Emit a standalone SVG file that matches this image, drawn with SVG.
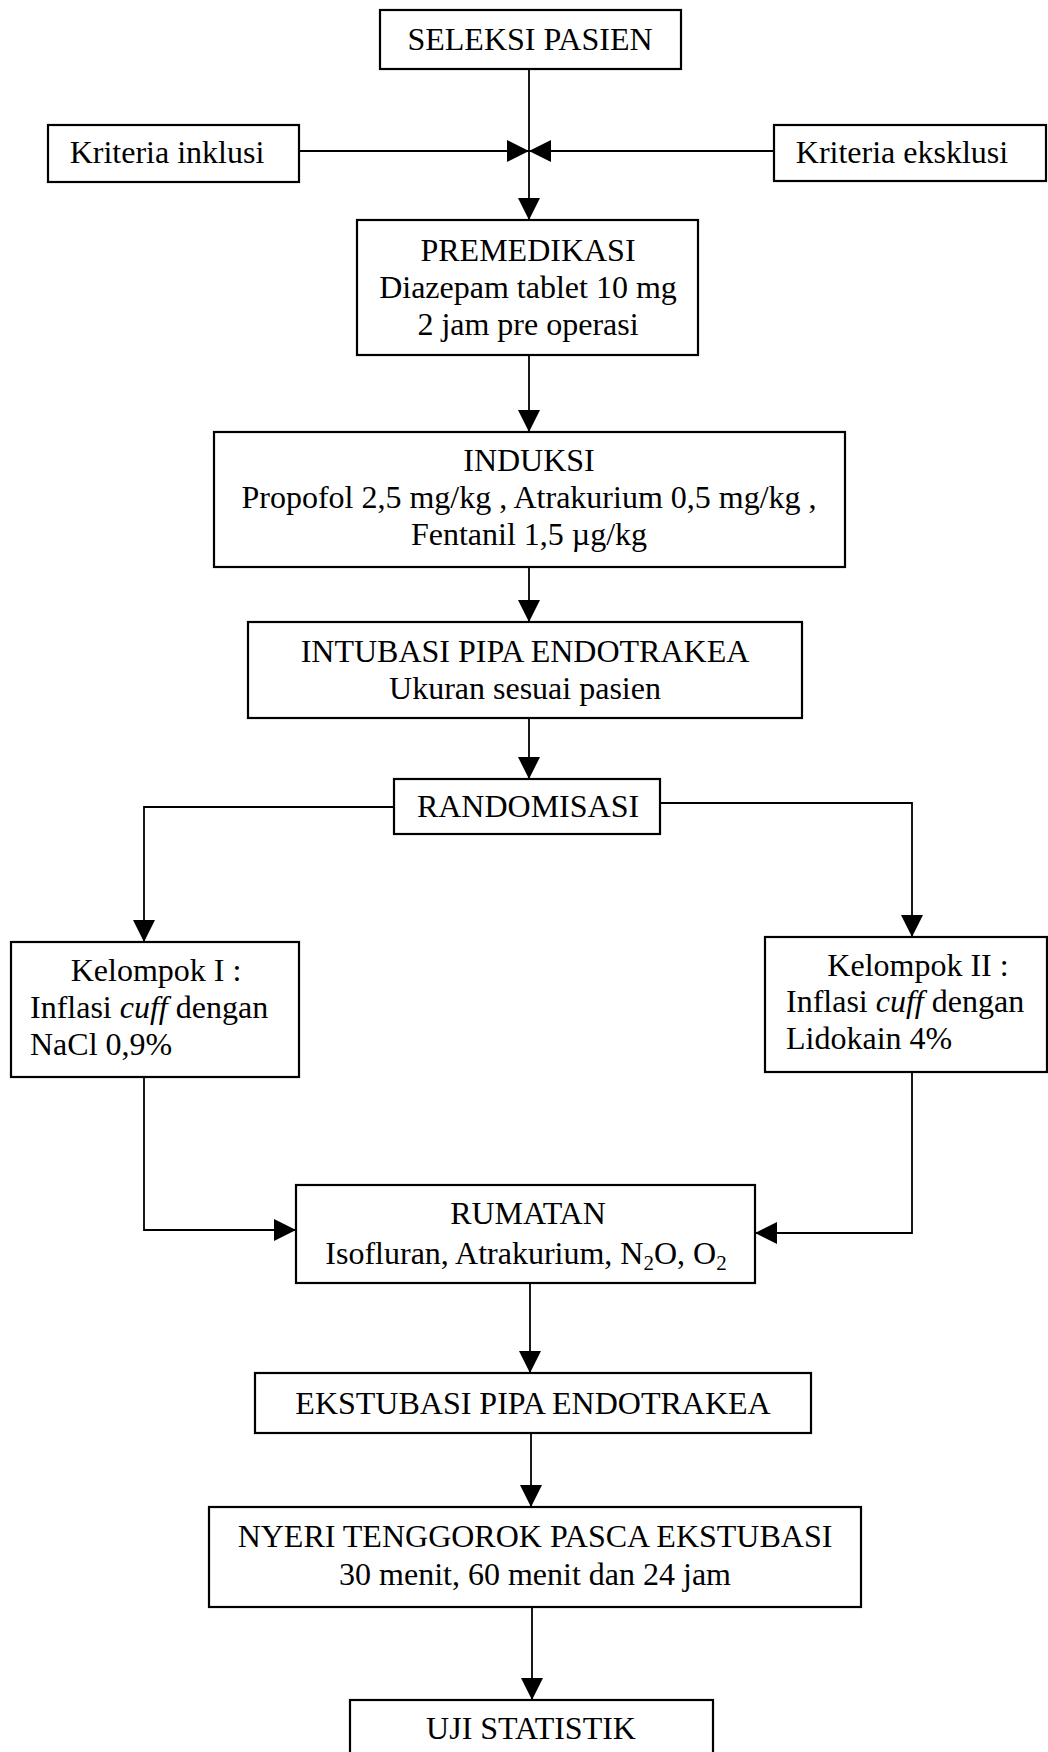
<svg xmlns="http://www.w3.org/2000/svg" width="1048" height="1752" viewBox="0 0 1048 1752">
  <style>
    .box { fill: #ffffff; stroke: #000000; stroke-width: 2.2; }
    .lbl { font-family: "Liberation Serif", "Times New Roman", serif; font-size: 32px; fill: #000000; }
    .c { text-anchor: middle; }
    .l { text-anchor: start; }
    .wire { fill: none; stroke: #000000; stroke-width: 1.8; }
    .sub { font-size: 21px; }
  </style>
  <defs>
    <marker id="arrow" markerUnits="userSpaceOnUse" markerWidth="24" markerHeight="24" refX="22" refY="11" orient="auto">
      <path d="M0,0 L22,11 L0,22 Z" fill="#000000"/>
    </marker>
  </defs>
  <rect width="1048" height="1752" fill="#ffffff"/>

  <!-- connectors -->
  <g id="connectors">
    <line class="wire" x1="529" y1="69" x2="529" y2="220" marker-end="url(#arrow)"/>
    <line class="wire" x1="299" y1="151" x2="529" y2="151" marker-end="url(#arrow)"/>
    <line class="wire" x1="774" y1="151" x2="529" y2="151" marker-end="url(#arrow)"/>
    <line class="wire" x1="529" y1="355" x2="529" y2="432" marker-end="url(#arrow)"/>
    <line class="wire" x1="529" y1="567" x2="529" y2="622" marker-end="url(#arrow)"/>
    <line class="wire" x1="529" y1="718" x2="529" y2="779" marker-end="url(#arrow)"/>
    <polyline class="wire" points="394,807 144,807 144,942" marker-end="url(#arrow)"/>
    <polyline class="wire" points="660,803 912,803 912,937" marker-end="url(#arrow)"/>
    <polyline class="wire" points="144,1077 144,1230 296,1230" marker-end="url(#arrow)"/>
    <polyline class="wire" points="912,1072 912,1233 755,1233" marker-end="url(#arrow)"/>
    <line class="wire" x1="530" y1="1283" x2="530" y2="1373" marker-end="url(#arrow)"/>
    <line class="wire" x1="531" y1="1433" x2="531" y2="1507" marker-end="url(#arrow)"/>
    <line class="wire" x1="532" y1="1607" x2="532" y2="1700" marker-end="url(#arrow)"/>
  </g>

  <g id="seleksi">
    <rect class="box" x="380" y="10" width="301" height="59"/>
    <text class="lbl c" x="530" y="50">SELEKSI PASIEN</text>
  </g>

  <g id="inklusi">
    <rect class="box" x="48" y="125" width="251" height="57"/>
    <text class="lbl c" x="167" y="163">Kriteria inklusi</text>
  </g>

  <g id="eksklusi">
    <rect class="box" x="774" y="125" width="272" height="56"/>
    <text class="lbl c" x="902" y="163">Kriteria eksklusi</text>
  </g>

  <g id="premedikasi">
    <rect class="box" x="357" y="220" width="341" height="135"/>
    <text class="lbl c" x="528" y="261">PREMEDIKASI</text>
    <text class="lbl c" x="528" y="298">Diazepam tablet 10 mg</text>
    <text class="lbl c" x="528" y="335">2 jam pre operasi</text>
  </g>

  <g id="induksi">
    <rect class="box" x="214" y="432" width="631" height="135"/>
    <text class="lbl c" x="529" y="471">INDUKSI</text>
    <text class="lbl c" x="529" y="508">Propofol 2,5 mg/kg , Atrakurium 0,5 mg/kg ,</text>
    <text class="lbl c" x="529" y="545">Fentanil 1,5 µg/kg</text>
  </g>

  <g id="intubasi">
    <rect class="box" x="248" y="622" width="554" height="96"/>
    <text class="lbl c" x="525" y="662">INTUBASI PIPA ENDOTRAKEA</text>
    <text class="lbl c" x="525" y="699">Ukuran sesuai pasien</text>
  </g>

  <g id="randomisasi">
    <rect class="box" x="394" y="779" width="266" height="55"/>
    <text class="lbl c" x="528" y="817">RANDOMISASI</text>
  </g>

  <g id="kelompok1">
    <rect class="box" x="11" y="942" width="288" height="135"/>
    <text class="lbl c" x="156" y="981">Kelompok I :</text>
    <text class="lbl l" x="30" y="1018">Inflasi <tspan font-style="italic">cuff</tspan> dengan</text>
    <text class="lbl l" x="30" y="1055">NaCl 0,9%</text>
  </g>

  <g id="kelompok2">
    <rect class="box" x="765" y="937" width="282" height="135"/>
    <text class="lbl c" x="918" y="976">Kelompok II :</text>
    <text class="lbl l" x="786" y="1012">Inflasi <tspan font-style="italic">cuff</tspan> dengan</text>
    <text class="lbl l" x="786" y="1049">Lidokain 4%</text>
  </g>

  <g id="rumatan">
    <rect class="box" x="296" y="1185" width="459" height="98"/>
    <text class="lbl c" x="528" y="1224">RUMATAN</text>
    <text class="lbl c" x="526" y="1264">Isofluran, Atrakurium, N<tspan class="sub" dy="6">2</tspan><tspan dy="-6">O, O</tspan><tspan class="sub" dy="6">2</tspan></text>
  </g>

  <g id="ekstubasi">
    <rect class="box" x="255" y="1373" width="556" height="60"/>
    <text class="lbl c" x="533" y="1414">EKSTUBASI PIPA ENDOTRAKEA</text>
  </g>

  <g id="nyeri">
    <rect class="box" x="209" y="1507" width="652" height="100"/>
    <text class="lbl c" x="535" y="1547">NYERI TENGGOROK PASCA EKSTUBASI</text>
    <text class="lbl c" x="535" y="1585">30 menit, 60 menit dan 24 jam</text>
  </g>

  <g id="uji">
    <rect class="box" x="350" y="1700" width="363" height="70"/>
    <text class="lbl c" x="531" y="1739">UJI STATISTIK</text>
  </g>
</svg>
